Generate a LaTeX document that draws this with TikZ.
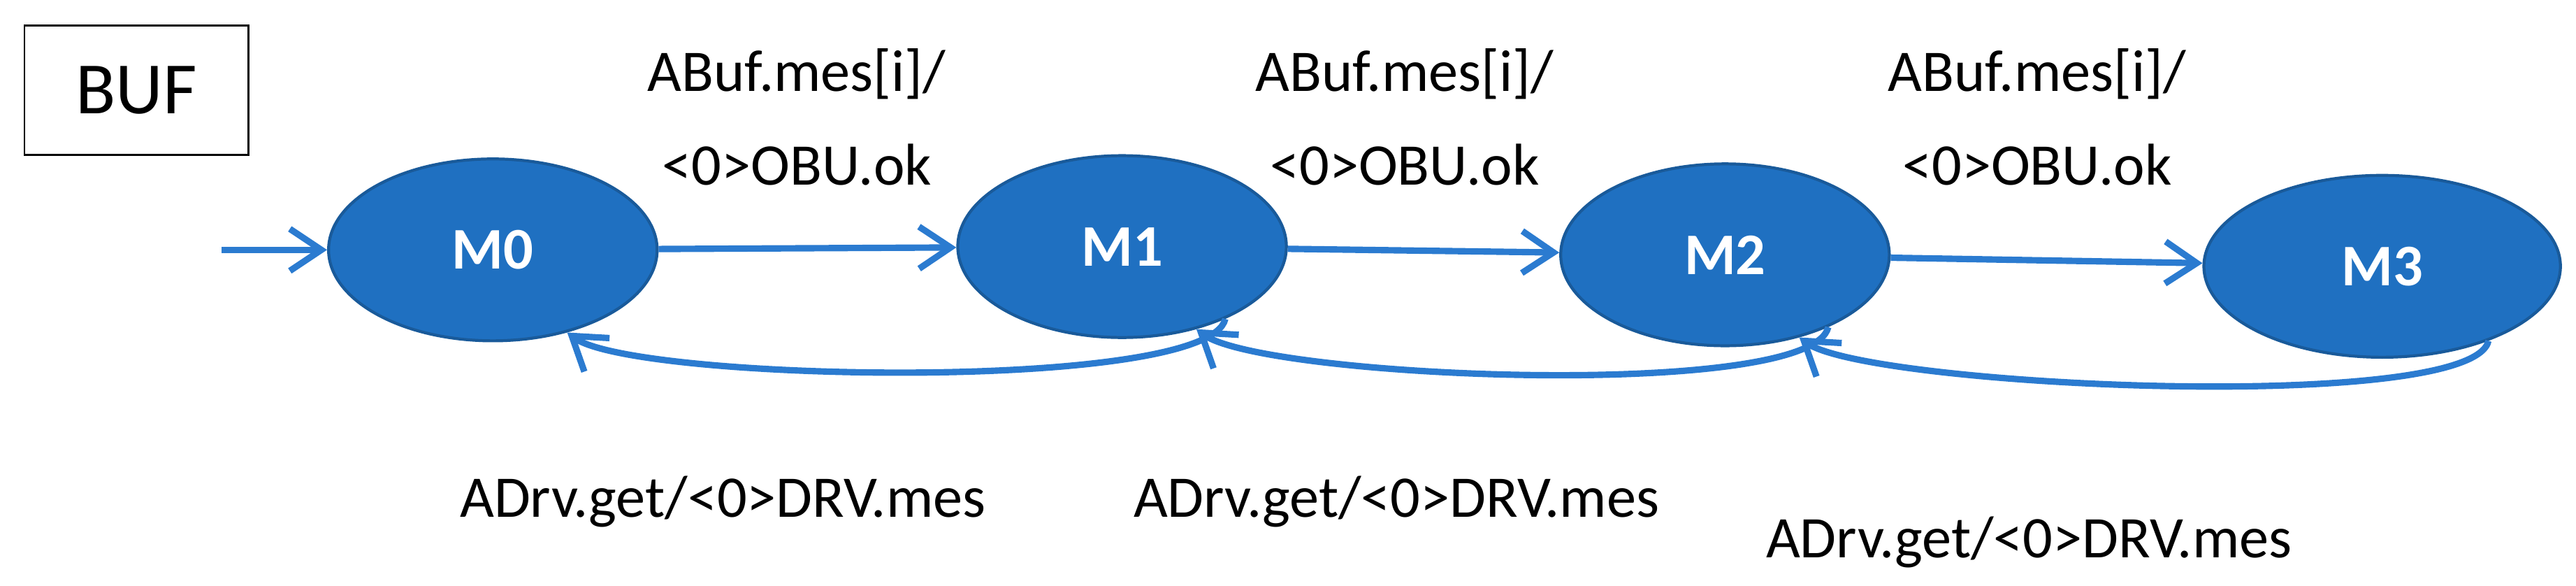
\documentclass[tikz,border=0pt]{standalone}
\usepackage{fontspec}
\setmainfont{Carlito}
\usetikzlibrary{shapes.geometric,arrows.meta}
\definecolor{stateblue}{HTML}{1F70C1}
\definecolor{arcblue}{HTML}{2B7BD0}
\tikzset{
  state/.style={ellipse, draw=stateblue!80!black, line width=1.2pt, fill=stateblue,
    minimum width=4.7cm, minimum height=2.6cm, text=white, font=\bfseries\fontsize{24}{28}\selectfont},
  move/.style={draw=arcblue, line width=2.6pt, -{Straight Barb[length=0.45cm,width=0.6cm,line width=2.6pt]}},
  lbl/.style={font=\fontsize{24}{28}\selectfont}
}
\begin{document}
\begin{tikzpicture}[x=0.0235cm, y=-0.0235cm]
    \useasboundingbox (0,0) rectangle (1568,356.4);
    \node[draw, line width=0.8pt, minimum width=3.2cm, minimum height=1.85cm,
      font=\fontsize{30}{34}\selectfont] (buf) at (83,55) {BUF};
    \node[state] (m0) at (300,152) {M0};
    \node[state] (m1) at (683,150) {M1};
    \node[state] (m2) at (1050,155) {M2};
    \node[state, minimum width=5.1cm] (m3) at (1450,162) {M3};
    \coordinate (start) at (135,152);
    \draw[move] (start) -- (m0);
    % forward moves
    \draw[move] (m0) -- (m1);
    \draw[move] (m1) -- (m2);
    \draw[move] (m2) -- (m3);
    % backward moves
    \draw[move] (m1.-35) .. controls +(-10,45) and +(40,30) .. (m0.-48);
    \draw[move] (m2.-35) .. controls +(-10,45) and +(40,30) .. (m1.-48);
    \draw[move] (m3.-35) .. controls +(-10,45) and +(40,30) .. (m2.-48);
    % labels
    \foreach \x/\n in {485/a, 855/b, 1240/c} {
      \node[lbl] (top\n) at (\x,45) {ABuf.mes[i]/};
      \node[lbl] (bot\n) at (\x,100) {<0>OBU.ok};
    }
    \node[lbl] (ga) at (440,305) {ADrv.get/<0>DRV.mes};
    \node[lbl] (gb) at (850,305) {ADrv.get/<0>DRV.mes};
    \node[lbl] (gc) at (1235,330) {ADrv.get/<0>DRV.mes};
\end{tikzpicture}
\end{document}
